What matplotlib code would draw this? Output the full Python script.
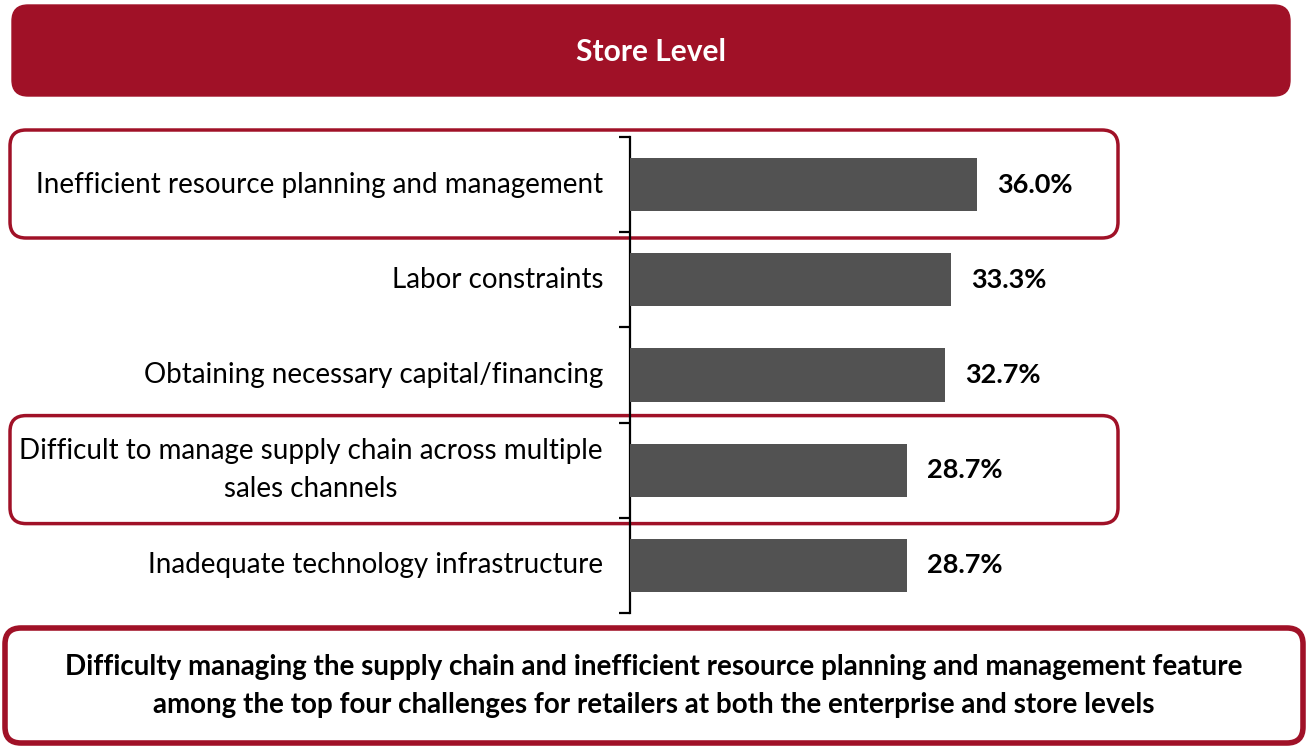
import matplotlib
matplotlib.use("Agg")
import matplotlib.pyplot as plt
from matplotlib.patches import FancyBboxPatch
import numpy as np

plt.rcParams['font.family'] = ['Lato', 'DejaVu Sans']

# chart data
challenges = [
    "Inefficient resource planning and management",
    "Labor constraints",
    "Obtaining necessary capital/financing",
    "Difficult to manage supply chain across multiple\nsales channels",
    "Inadequate technology infrastructure",
]
shares = [36.0, 33.3, 32.7, 28.7, 28.7]
highlighted = [0, 3]

title = "Store Level"
takeaway = ("Difficulty managing the supply chain and inefficient resource planning and management feature\n"
            "among the top four challenges for retailers at both the enterprise and store levels")

red = "#A01127"
bar_color = "#525252"

W, H = 1307, 749
fig = plt.figure(figsize=(W / 100, H / 100), dpi=100)

def px_box(x0, y0, x1, y1, **kw):
    # rounded box given in pixel coords (top-left origin), drawn in inches
    box = FancyBboxPatch((x0 / 100, (H - y1) / 100), (x1 - x0) / 100, (y1 - y0) / 100,
                         boxstyle="round,pad=0,rounding_size=0.16",
                         transform=fig.dpi_scale_trans, **kw)
    fig.patches.append(box)
    return box

# header
px_box(12, 5, 1290, 96, facecolor=red, edgecolor=red, lw=1, zorder=-2)
fig.text(651 / W, 1 - 52 / H, title, color="white", fontsize=21.5, fontweight="bold",
         ha="center", va="center")

ax = fig.add_axes([630 / W, 1 - 613 / H, (1305 - 630) / W, (613 - 137) / H])
ax.set_facecolor("none")

y = np.arange(len(challenges))
ax.barh(y, shares, height=0.56, color=bar_color, zorder=3)
ax.set_ylim(len(challenges) - 0.5, -0.5)
ax.set_xlim(0, 70)

for yi, v in zip(y, shares):
    ax.text(v + 2.1, yi, f"{v:.1f}%", va="center", ha="left", fontsize=19.5, fontweight="bold")

# category labels
for yi, lab in zip(y, challenges):
    ax.annotate(lab, xy=(0, yi), xycoords=("axes fraction", "data"),
                xytext=(-27, 0), textcoords="offset pixels",
                ha="right", va="center", fontsize=20, multialignment="center",
                linespacing=1.55)

# highlight boxes around selected rows
step = (613 - 137) / len(challenges)
for i in highlighted:
    ytop = 137 + step * i - 7
    px_box(10, ytop, 1118, ytop + 108, facecolor="white", edgecolor=red, lw=2.5, zorder=-1)

for s in ["top", "right", "bottom"]:
    ax.spines[s].set_visible(False)
ax.spines["left"].set_linewidth(1.6)
ax.set_xticks([])
ax.set_yticks(y)
ax.set_yticklabels([])
ax.tick_params(axis="y", which="major", length=0)
ax.set_yticks(np.arange(-0.5, len(challenges), 1), minor=True)
ax.tick_params(axis="y", which="minor", length=8, width=1.6, direction="out")

# takeaway box
px_box(5, 628, 1303, 743, facecolor="white", edgecolor=red, lw=4, zorder=-1)
fig.text(654 / W, 1 - 686 / H, takeaway, ha="center", va="center", fontsize=20,
         fontweight="bold", linespacing=1.6)

fig.savefig("out.png", dpi=100)
